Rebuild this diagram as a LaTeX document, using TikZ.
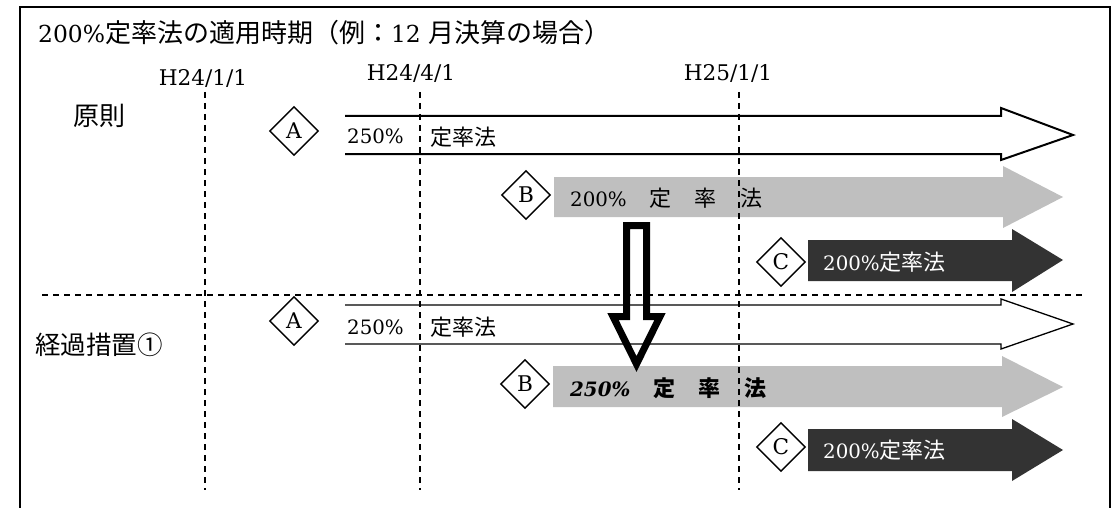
\documentclass[tikz,border=0pt]{standalone}
\usepackage{fontspec}
\setmainfont{DejaVu Serif}[Scale=0.9]
\newfontfamily\jp{Noto Sans CJK JP}
\usetikzlibrary{shapes.geometric}
\newcommand{\J}[1]{{\jp #1}}
\definecolor{lgray}{HTML}{BFBFBF}
\definecolor{dgray}{HTML}{333333}
\tikzset{
  fs/.style={font=\fontsize{#1}{#1}\selectfont},
  lbl/.style={fs=22, inner sep=0pt, anchor=west},
  dia/.style={diamond, draw, line width=1.4pt, minimum width=49pt, minimum height=49pt, inner sep=0pt, fill=white, fs=24},
  vdash/.style={dash pattern=on 6pt off 5pt, line width=1.3pt},
  whitearrow/.style={line width=#1, line join=miter},
  lightarrow/.style={fill=lgray},
  darkarrow/.style={fill=dgray},
  bigdown/.style={line width=7pt, line join=miter, miter limit=10},
}
\begin{document}
\begin{tikzpicture}[x=1pt,y=-1pt]
\useasboundingbox (0,0) rectangle (1118,508);
% frame
\draw[line width=2pt] (20,508) -- (20,7) -- (1110,7) -- (1110,508);
% title
\node[fs=26, inner sep=0pt, anchor=west] (title) at (38,33) {200\%\J{定率法の適用時期（例：}12 \J{月決算の場合）}};
% date labels
\node[fs=24, inner sep=0pt] (d1) at (203,78) {H24/1/1};
\node[fs=24, inner sep=0pt] (d2) at (411,73) {H24/4/1};
\node[fs=24, inner sep=0pt] (d3) at (728,73) {H25/1/1};
% row labels
\node[fs=26, inner sep=0pt, anchor=west] (r1) at (73,116) {\J{原則}};
\node[fs=25.5, inner sep=0pt, anchor=west] (r2) at (35,345) {\J{経過措置①}};
% filled arrows
\fill[lightarrow] (554,177) -- (1003,177) -- (1003,166) -- (1063,197) -- (1003,228) -- (1003,217) -- (554,217) -- cycle;
\fill[darkarrow] (808,240) -- (1012,240) -- (1012,229) -- (1063,260) -- (1012,292) -- (1012,281) -- (808,281) -- cycle;
\fill[lightarrow] (553,366) -- (1002,366) -- (1002,356) -- (1063,387) -- (1002,417) -- (1002,407) -- (553,407) -- cycle;
\fill[darkarrow] (808,429) -- (1012,429) -- (1012,419) -- (1063,450) -- (1012,481) -- (1012,471) -- (808,471) -- cycle;
% dashed lines
\coordinate (v1t) at (205,92); \coordinate (v1b) at (205,490);
\coordinate (v2t) at (420,92); \coordinate (v2b) at (420,490);
\coordinate (v3t) at (739,92); \coordinate (v3b) at (739,490);
\coordinate (hl) at (42,295); \coordinate (hr) at (1085,295);
\draw[vdash] (v1t) -- (v1b);
\draw[vdash] (v2t) -- (v2b);
\draw[vdash] (v3t) -- (v3b);
\draw[vdash] (hl) -- (hr);
% white outline arrows
\draw[whitearrow=2pt] (345,116) -- (1001,116) -- (1001,108) -- (1073,135) -- (1001,160) -- (1001,154) -- (345,154);
\draw[whitearrow=1.3pt] (345,305) -- (1001,305) -- (1001,299) -- (1073,324) -- (1001,349) -- (1001,344) -- (345,344);
% arrow texts
\node[lbl] (ta1) at (347,136) {250\%};
\node[lbl] (ta2) at (430,137) {\J{定率法}};
\node[lbl] (tb1) at (570,198) {200\%\hspace{23pt}\J{定}\hspace{23pt}\J{率}\hspace{24pt}\J{法}};
\node[lbl, text=white] (tc1) at (823,262) {200\%\J{定率法}};
\node[lbl] (ta3) at (347,327) {250\%};
\node[lbl] (ta4) at (430,327) {\J{定率法}};
\node[lbl, font=\fontsize{22}{22}\selectfont\bfseries] (tb2) at (570,388) {\textit{250\%}\hspace{23pt}\J{定}\hspace{23pt}\J{率}\hspace{24pt}\J{法}};
\node[lbl, text=white] (tc2) at (823,450) {200\%\J{定率法}};
% diamonds
\node[dia] (dA1) at (294,131) {A};
\node[dia] (dB1) at (526,195) {B};
\node[dia] (dC1) at (781,262) {C};
\node[dia] (dA2) at (294,321) {A};
\node[dia] (dB2) at (525,384) {B};
\node[dia] (dC2) at (781,447) {C};
% big down arrow
\draw[bigdown] (626.5,225.5) -- (646.5,225.5) -- (646.5,316.5) -- (660,316.5) -- (636.5,364) -- (613,316.5) -- (626.5,316.5) -- cycle;
\end{tikzpicture}
\end{document}
